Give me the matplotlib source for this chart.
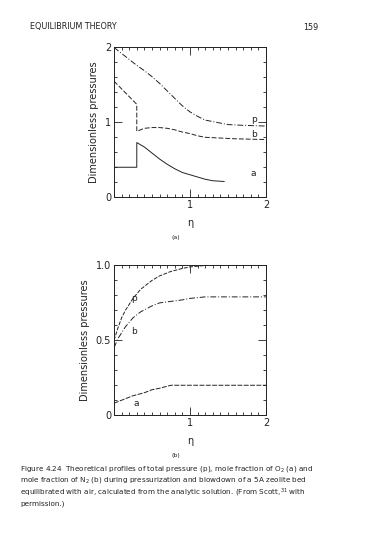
import numpy as np
import matplotlib.pyplot as plt
from matplotlib.ticker import MultipleLocator

plt.rcParams['font.family'] = ['DejaVu Sans']

# (a) top panel: pressurization + blowdown profiles
p_a_x = [0.0, 0.1, 0.2, 0.3, 0.4, 0.5, 0.6, 0.7, 0.8, 0.9, 1.0, 1.1, 1.2, 1.35, 1.5, 1.7, 2.0]
p_a_y = [2.0, 1.92, 1.84, 1.76, 1.69, 1.61, 1.52, 1.42, 1.32, 1.22, 1.14, 1.08, 1.03, 1.0, 0.97, 0.96, 0.95]
b_a_x = [0.0, 0.3, 0.3, 0.4, 0.5, 0.6, 0.7, 0.8, 0.9, 1.0, 1.1, 1.2, 1.4, 1.6, 2.0]
b_a_y = [1.55, 1.24, 0.88, 0.92, 0.93, 0.93, 0.92, 0.9, 0.87, 0.85, 0.82, 0.8, 0.79, 0.78, 0.77]
a_a_x = [0.0, 0.3, 0.3, 0.4, 0.5, 0.6, 0.7, 0.8, 0.9, 1.0, 1.1, 1.2, 1.3, 1.45]
a_a_y = [0.4, 0.4, 0.73, 0.67, 0.59, 0.51, 0.44, 0.38, 0.33, 0.3, 0.27, 0.24, 0.22, 0.21]

# (b) bottom panel
p_b_x = [0.0, 0.05, 0.1, 0.15, 0.25, 0.35, 0.5, 0.6, 0.75, 0.9, 1.0, 1.2, 1.5, 2.0]
p_b_y = [0.5, 0.58, 0.65, 0.7, 0.78, 0.84, 0.9, 0.93, 0.96, 0.98, 0.99, 1.0, 1.0, 1.0]
b_b_x = [0.0, 0.05, 0.1, 0.15, 0.25, 0.35, 0.5, 0.6, 0.75, 0.9, 1.0, 1.2, 1.5, 2.0]
b_b_y = [0.45, 0.51, 0.55, 0.59, 0.65, 0.69, 0.73, 0.75, 0.76, 0.77, 0.78, 0.79, 0.79, 0.79]
a_b_x = [0.0, 0.1, 0.25, 0.4, 0.5, 0.6, 0.75, 0.9, 1.0, 1.5, 2.0]
a_b_y = [0.08, 0.1, 0.13, 0.15, 0.17, 0.18, 0.2, 0.2, 0.2, 0.2, 0.2]

ink = '#222222'

fig = plt.figure(figsize=(3.75, 5.33), dpi=100)

def style_axes(ax, ymax, yminor, yticks, ylabels):
    ax.set_xlim(0, 2)
    ax.set_ylim(0, ymax)
    ax.set_xticks([1, 2])
    ax.set_xticklabels(['1', '2'])
    ax.set_yticks(yticks)
    ax.set_yticklabels(ylabels)
    ax.xaxis.set_minor_locator(MultipleLocator(0.1))
    ax.yaxis.set_minor_locator(MultipleLocator(yminor))
    ax.tick_params(which='both', direction='in', top=True, right=True, colors=ink,
                   labelsize=7, width=0.6, pad=2)
    ax.tick_params(which='major', length=6)
    ax.tick_params(which='minor', length=2.5)
    for s in ax.spines.values():
        s.set_linewidth(0.7)
        s.set_color(ink)
    ax.set_xlabel('η', fontsize=7, color=ink, labelpad=6)
    ax.set_ylabel('Dimensionless pressures', fontsize=7, color=ink, labelpad=4)

ax1 = fig.add_axes([0.304, 0.630, 0.405, 0.281])
ax1.plot(p_a_x, p_a_y, color=ink, lw=0.7, ls=(0, (6, 2, 1, 2)))
ax1.plot(b_a_x, b_a_y, color=ink, lw=0.7, ls=(0, (5, 2)))
ax1.plot(a_a_x, a_a_y, color=ink, lw=0.7)
ax1.text(1.8, 0.98, 'p', fontsize=6.5, color=ink, va='bottom')
ax1.text(1.8, 0.78, 'b', fontsize=6.5, color=ink, va='bottom')
ax1.text(1.8, 0.25, 'a', fontsize=6.5, color=ink, va='bottom')
style_axes(ax1, 2, 0.2, [0, 1, 2], ['0', '1', '2'])

ax2 = fig.add_axes([0.304, 0.221, 0.405, 0.281])
ax2.plot(p_b_x, p_b_y, color=ink, lw=0.7, ls=(0, (4, 1.5)))
ax2.plot(b_b_x, b_b_y, color=ink, lw=0.7, ls=(0, (6, 2, 1, 2)))
ax2.plot(a_b_x, a_b_y, color=ink, lw=0.7, ls=(0, (5, 1.5)))
ax2.text(0.22, 0.76, 'p', fontsize=6.5, color=ink)
ax2.text(0.22, 0.54, 'b', fontsize=6.5, color=ink)
ax2.text(0.26, 0.06, 'a', fontsize=6.5, color=ink)
style_axes(ax2, 1.0, 0.1, [0, 0.5, 1.0], ['0', '0.5', '1.0'])

# page header and captions
fig.text(30 / 375, 1 - 27 / 533, 'EQUILIBRIUM THEORY', fontsize=5.8, color=ink, va='center')
fig.text(303 / 375, 1 - 27 / 533, '159', fontsize=5.8, color=ink, va='center')
fig.text(176 / 375, 1 - 238 / 533, '(a)', fontsize=4.5, color=ink, ha='center', va='center')
fig.text(176 / 375, 1 - 455 / 533, '(b)', fontsize=4.5, color=ink, ha='center', va='center')
caption = ('Figure 4.24  Theoretical profiles of total pressure (p), mole fraction of O$_2$ (a) and\n'
           'mole fraction of N$_2$ (b) during pressurization and blowdown of a 5A zeolite bed\n'
           'equilibrated with air, calculated from the analytic solution. (From Scott,$^{31}$ with\n'
           'permission.)')
fig.text(20 / 375, 1 - 464 / 533, caption, fontsize=5.2, color=ink, va='top', linespacing=1.2)

fig.savefig('out.png', dpi=100)
